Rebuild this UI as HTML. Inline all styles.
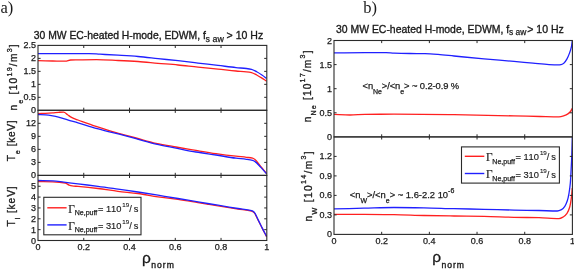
<!DOCTYPE html>
<html><head><meta charset="utf-8"><style>
html,body{margin:0;padding:0;background:#fff;}
svg{display:block;will-change:transform;filter:blur(0.3px);}
text{font-family:"Liberation Sans",sans-serif;fill:#1a1a1a;}
.tk{font-size:9.0px;stroke:#1a1a1a;stroke-width:0.25px;}
.ti{font-size:11px;stroke:#1a1a1a;stroke-width:0.35px;}
.sb{font-size:9px;stroke:#1a1a1a;stroke-width:0.25px;}
.pl{font-family:"Liberation Serif",serif;font-size:16.5px;}
.rho{font-size:15.5px;stroke:#1a1a1a;stroke-width:0.3px;}
.nm{font-size:8.6px;letter-spacing:1.0px;stroke-width:0.35px;}
.yl{font-size:10.2px;stroke:#1a1a1a;stroke-width:0.3px;}
.ys{font-size:7.2px;}
.an{font-size:9.4px;stroke:#1a1a1a;stroke-width:0.25px;}
.as{font-size:7px;}
.lg{font-size:9.3px;stroke:#1a1a1a;stroke-width:0.15px;}
.gam{font-family:"Liberation Serif",serif;font-size:13px;stroke:#1a1a1a;stroke-width:0.2px;}
.lsb{font-size:7.6px;stroke:#1a1a1a;stroke-width:0.25px;}
.lsp{font-size:6.2px;stroke:#1a1a1a;stroke-width:0.12px;}
</style></head>
<body><svg width="574" height="270" viewBox="0 0 574 270">
<rect width="574" height="270" fill="#fff"/>
<defs>
<clipPath id="c0"><rect x="38.0" y="45.4" width="228.8" height="64.9"/></clipPath>
<clipPath id="c1"><rect x="38.0" y="110.3" width="228.8" height="65.10000000000001"/></clipPath>
<clipPath id="c2"><rect x="38.0" y="175.4" width="228.8" height="65.1"/></clipPath>
<clipPath id="c3"><rect x="334.0" y="40.5" width="238.39999999999998" height="96.4"/></clipPath>
<clipPath id="c4"><rect x="334.0" y="136.9" width="238.39999999999998" height="97.5"/></clipPath>
</defs>
<g clip-path="url(#c0)"><path d="M38.00,60.70 C42.93,60.80 47.87,60.91 52.80,61.00 C57.00,61.07 61.20,61.20 65.40,61.20 C67.13,61.20 68.87,60.05 70.60,60.00 C73.07,59.93 75.53,59.93 78.00,59.90 C84.17,59.82 90.33,59.70 96.50,59.70 C103.67,59.70 110.83,60.19 118.00,60.50 C124.67,60.78 131.33,61.07 138.00,61.50 C144.67,61.93 151.33,62.72 158.00,63.30 C164.67,63.88 171.33,64.36 178.00,65.00 C184.67,65.64 191.33,66.52 198.00,67.20 C204.67,67.88 211.33,68.43 218.00,69.10 C224.00,69.70 230.00,70.47 236.00,71.00 C239.47,71.30 242.93,71.43 246.40,71.80 C248.10,71.98 249.80,72.20 251.50,72.60 C253.23,73.01 254.97,74.10 256.70,75.00 C258.43,75.90 260.17,77.01 261.90,78.10 C263.47,79.08 265.03,80.17 266.60,81.20" fill="none" stroke="#ff2020" stroke-width="1.3" stroke-linejoin="round" stroke-linecap="butt"/></g>
<g clip-path="url(#c0)"><path d="M38.00,53.60 C55.00,53.60 72.00,53.60 89.00,53.60 C92.67,53.60 96.33,54.00 100.00,54.20 C106.00,54.53 112.00,54.84 118.00,55.20 C124.67,55.60 131.33,55.96 138.00,56.50 C144.67,57.04 151.33,57.90 158.00,58.60 C164.67,59.30 171.33,59.95 178.00,60.70 C184.67,61.45 191.33,62.32 198.00,63.10 C204.67,63.88 211.33,64.61 218.00,65.40 C224.00,66.11 230.00,67.00 236.00,67.60 C239.47,67.95 242.93,68.10 246.40,68.50 C248.10,68.70 249.80,68.90 251.50,69.30 C253.23,69.71 254.97,70.86 256.70,71.80 C258.43,72.74 260.17,73.85 261.90,75.00 C263.47,76.04 265.03,77.27 266.60,78.40" fill="none" stroke="#2020ff" stroke-width="1.3" stroke-linejoin="round" stroke-linecap="butt"/></g>
<g clip-path="url(#c1)"><path d="M38.00,113.60 C40.47,113.50 42.93,113.42 45.40,113.30 C47.87,113.17 50.33,112.99 52.80,112.80 C54.77,112.65 56.73,112.41 58.70,112.30 C60.33,112.21 61.97,112.10 63.60,112.10 C64.93,112.10 66.27,113.78 67.60,114.70 C68.60,115.39 69.60,116.31 70.60,116.90 C71.60,117.49 72.60,117.97 73.60,118.40 C75.07,119.02 76.53,119.47 78.00,120.00 C84.00,122.16 90.00,124.39 96.00,126.40 C102.67,128.63 109.33,130.78 116.00,132.70 C122.67,134.62 129.33,136.23 136.00,138.00 C142.67,139.77 149.33,141.85 156.00,143.30 C162.67,144.75 169.33,145.82 176.00,147.00 C182.67,148.18 189.33,149.30 196.00,150.40 C202.67,151.50 209.33,152.64 216.00,153.60 C222.67,154.56 229.33,155.43 236.00,156.20 C239.47,156.60 242.93,156.89 246.40,157.30 C248.47,157.54 250.53,157.61 252.60,158.10 C253.30,158.26 254.00,158.79 254.70,159.30 C256.77,160.80 258.83,164.11 260.90,166.60 C262.80,168.88 264.70,171.27 266.60,173.60" fill="none" stroke="#ff2020" stroke-width="1.3" stroke-linejoin="round" stroke-linecap="butt"/></g>
<g clip-path="url(#c1)"><path d="M38.00,114.50 C40.47,114.60 42.93,114.65 45.40,114.80 C47.87,114.95 50.33,115.37 52.80,115.80 C55.27,116.23 57.73,116.93 60.20,117.60 C62.67,118.27 65.13,119.17 67.60,119.90 C71.07,120.92 74.53,121.79 78.00,122.80 C84.00,124.56 90.00,126.73 96.00,128.40 C102.67,130.25 109.33,131.70 116.00,133.40 C122.67,135.10 129.33,136.82 136.00,138.60 C142.67,140.38 149.33,142.56 156.00,144.10 C162.67,145.64 169.33,146.78 176.00,148.10 C182.67,149.42 189.33,150.87 196.00,152.00 C202.67,153.13 209.33,153.97 216.00,155.00 C222.67,156.03 229.33,157.37 236.00,158.20 C239.47,158.63 242.93,158.83 246.40,159.30 C248.47,159.58 250.53,159.82 252.60,160.40 C253.30,160.60 254.00,160.98 254.70,161.40 C256.77,162.65 258.83,165.25 260.90,167.40 C262.80,169.38 264.70,171.67 266.60,173.80" fill="none" stroke="#2020ff" stroke-width="1.3" stroke-linejoin="round" stroke-linecap="butt"/></g>
<g clip-path="url(#c2)"><path d="M38.00,181.60 C42.93,181.67 47.87,181.68 52.80,181.80 C57.00,181.90 61.20,182.21 65.40,183.00 C66.63,183.23 67.87,184.66 69.10,185.10 C70.10,185.46 71.10,185.76 72.10,185.90 C74.07,186.17 76.03,186.22 78.00,186.40 C84.67,187.01 91.33,187.70 98.00,188.50 C104.67,189.30 111.33,190.48 118.00,191.30 C124.67,192.12 131.33,192.62 138.00,193.50 C144.67,194.38 151.33,195.83 158.00,196.80 C164.67,197.77 171.33,198.44 178.00,199.40 C184.67,200.36 191.33,201.52 198.00,202.60 C204.67,203.68 211.33,204.82 218.00,205.90 C224.67,206.98 231.33,208.05 238.00,209.10 C242.53,209.81 247.07,209.95 251.60,211.20 C252.40,211.42 253.20,211.86 254.00,212.50 C255.27,213.52 256.53,217.09 257.80,219.50 C259.33,222.42 260.87,225.61 262.40,228.60 C263.80,231.33 265.20,234.00 266.60,236.70" fill="none" stroke="#ff2020" stroke-width="1.3" stroke-linejoin="round" stroke-linecap="butt"/></g>
<g clip-path="url(#c2)"><path d="M38.00,180.50 C42.93,180.60 47.87,180.62 52.80,180.80 C56.50,180.93 60.20,181.65 63.90,182.10 C68.60,182.67 73.30,183.32 78.00,183.90 C84.67,184.73 91.33,185.44 98.00,186.30 C104.67,187.16 111.33,188.15 118.00,189.10 C124.67,190.05 131.33,190.99 138.00,192.00 C144.67,193.01 151.33,194.12 158.00,195.20 C164.67,196.28 171.33,197.38 178.00,198.50 C184.67,199.62 191.33,200.78 198.00,201.90 C204.67,203.02 211.33,204.10 218.00,205.20 C224.67,206.30 231.33,207.41 238.00,208.50 C242.53,209.24 247.07,209.41 251.60,210.70 C252.40,210.93 253.20,211.35 254.00,212.00 C255.27,213.02 256.53,216.64 257.80,219.10 C259.33,222.07 260.87,225.37 262.40,228.40 C263.80,231.16 265.20,233.80 266.60,236.50" fill="none" stroke="#2020ff" stroke-width="1.3" stroke-linejoin="round" stroke-linecap="butt"/></g>
<g clip-path="url(#c3)"><path d="M334.00,114.40 C339.33,114.60 344.67,115.00 350.00,115.00 C355.00,115.00 360.00,114.46 365.00,114.40 C374.67,114.28 384.33,114.20 394.00,114.20 C414.00,114.20 434.00,114.46 454.00,114.70 C474.00,114.94 494.00,115.47 514.00,115.90 C522.67,116.09 531.33,116.31 540.00,116.50 C546.33,116.64 552.67,116.90 559.00,116.90 C560.73,116.90 562.47,116.26 564.20,115.70 C565.57,115.26 566.93,114.54 568.30,113.60 C569.03,113.10 569.77,112.43 570.50,111.50 C571.10,110.74 571.70,109.30 572.30,108.20" fill="none" stroke="#ff2020" stroke-width="1.3" stroke-linejoin="round" stroke-linecap="butt"/></g>
<g clip-path="url(#c3)"><path d="M334.00,52.90 C344.33,52.80 354.67,52.60 365.00,52.60 C372.00,52.60 379.00,52.60 386.00,52.60 C388.67,52.60 391.33,53.00 394.00,53.10 C399.33,53.30 404.67,53.41 410.00,53.50 C415.00,53.59 420.00,53.59 425.00,53.70 C429.33,53.79 433.67,54.10 438.00,54.40 C443.33,54.77 448.67,55.47 454.00,56.00 C464.00,56.98 474.00,58.00 484.00,58.90 C494.00,59.80 504.00,60.51 514.00,61.40 C520.33,61.96 526.67,62.62 533.00,63.20 C538.33,63.68 543.67,64.42 549.00,64.60 C552.00,64.70 555.00,64.80 558.00,64.80 C559.00,64.80 560.00,64.72 561.00,64.60 C561.93,64.49 562.87,63.88 563.80,63.20 C564.87,62.43 565.93,60.65 567.00,58.80 C567.83,57.36 568.67,55.37 569.50,53.10 C570.13,51.37 570.77,49.64 571.40,46.80 C571.70,45.45 572.00,43.67 572.30,41.20 C572.40,40.38 572.50,39.07 572.60,38.00" fill="none" stroke="#2020ff" stroke-width="1.3" stroke-linejoin="round" stroke-linecap="butt"/></g>
<g clip-path="url(#c4)"><path d="M334.00,214.40 C344.00,214.40 354.00,214.40 364.00,214.40 C374.00,214.40 384.00,214.55 394.00,214.70 C404.00,214.85 414.00,215.29 424.00,215.50 C434.00,215.71 444.00,215.85 454.00,216.00 C464.00,216.15 474.00,216.22 484.00,216.40 C494.00,216.58 504.00,217.09 514.00,217.30 C522.33,217.47 530.67,217.50 539.00,217.70 C545.67,217.86 552.33,218.60 559.00,218.60 C560.40,218.60 561.80,217.77 563.20,217.00 C564.47,216.30 565.73,215.08 567.00,213.30 C567.93,211.99 568.87,209.95 569.80,206.70 C570.37,204.72 570.93,201.19 571.50,196.70 C571.77,194.59 572.03,190.90 572.30,188.00" fill="none" stroke="#ff2020" stroke-width="1.3" stroke-linejoin="round" stroke-linecap="butt"/></g>
<g clip-path="url(#c4)"><path d="M334.00,208.90 C344.00,208.67 354.00,208.43 364.00,208.20 C374.00,207.97 384.00,207.50 394.00,207.50 C404.00,207.50 414.00,207.65 424.00,207.80 C434.00,207.95 444.00,208.46 454.00,208.70 C464.00,208.94 474.00,209.07 484.00,209.30 C494.00,209.53 504.00,209.90 514.00,210.10 C522.33,210.27 530.67,210.33 539.00,210.50 C545.10,210.62 551.20,211.00 557.30,211.00 C558.70,211.00 560.10,210.38 561.50,209.70 C562.60,209.16 563.70,207.87 564.80,206.30 C565.63,205.11 566.47,203.30 567.30,200.80 C567.87,199.10 568.43,196.52 569.00,193.30 C569.43,190.84 569.87,187.99 570.30,183.30 C570.57,180.41 570.83,175.01 571.10,170.00 C571.33,165.62 571.57,160.99 571.80,155.00 C572.00,149.86 572.20,142.13 572.40,136.00 C572.47,133.96 572.53,132.00 572.60,130.00" fill="none" stroke="#2020ff" stroke-width="1.3" stroke-linejoin="round" stroke-linecap="butt"/></g>
<rect x="38.0" y="45.4" width="228.8" height="64.9" fill="none" stroke="#2a2a2a" stroke-width="1.1"/>
<line x1="38.0" y1="97.32" x2="40.6" y2="97.32" stroke="#2a2a2a" stroke-width="1"/>
<line x1="266.8" y1="97.32" x2="264.2" y2="97.32" stroke="#2a2a2a" stroke-width="1"/>
<line x1="38.0" y1="84.34" x2="40.6" y2="84.34" stroke="#2a2a2a" stroke-width="1"/>
<line x1="266.8" y1="84.34" x2="264.2" y2="84.34" stroke="#2a2a2a" stroke-width="1"/>
<line x1="38.0" y1="71.36" x2="40.6" y2="71.36" stroke="#2a2a2a" stroke-width="1"/>
<line x1="266.8" y1="71.36" x2="264.2" y2="71.36" stroke="#2a2a2a" stroke-width="1"/>
<line x1="38.0" y1="58.38" x2="40.6" y2="58.38" stroke="#2a2a2a" stroke-width="1"/>
<line x1="266.8" y1="58.38" x2="264.2" y2="58.38" stroke="#2a2a2a" stroke-width="1"/>
<line x1="83.76" y1="45.4" x2="83.76" y2="48.0" stroke="#2a2a2a" stroke-width="1"/>
<line x1="83.76" y1="110.3" x2="83.76" y2="107.7" stroke="#2a2a2a" stroke-width="1"/>
<line x1="129.52" y1="45.4" x2="129.52" y2="48.0" stroke="#2a2a2a" stroke-width="1"/>
<line x1="129.52" y1="110.3" x2="129.52" y2="107.7" stroke="#2a2a2a" stroke-width="1"/>
<line x1="175.28" y1="45.4" x2="175.28" y2="48.0" stroke="#2a2a2a" stroke-width="1"/>
<line x1="175.28" y1="110.3" x2="175.28" y2="107.7" stroke="#2a2a2a" stroke-width="1"/>
<line x1="221.04" y1="45.4" x2="221.04" y2="48.0" stroke="#2a2a2a" stroke-width="1"/>
<line x1="221.04" y1="110.3" x2="221.04" y2="107.7" stroke="#2a2a2a" stroke-width="1"/>
<rect x="38.0" y="110.3" width="228.8" height="65.10000000000001" fill="none" stroke="#2a2a2a" stroke-width="1.1"/>
<line x1="38.0" y1="162.38" x2="40.6" y2="162.38" stroke="#2a2a2a" stroke-width="1"/>
<line x1="266.8" y1="162.38" x2="264.2" y2="162.38" stroke="#2a2a2a" stroke-width="1"/>
<line x1="38.0" y1="149.36" x2="40.6" y2="149.36" stroke="#2a2a2a" stroke-width="1"/>
<line x1="266.8" y1="149.36" x2="264.2" y2="149.36" stroke="#2a2a2a" stroke-width="1"/>
<line x1="38.0" y1="136.34" x2="40.6" y2="136.34" stroke="#2a2a2a" stroke-width="1"/>
<line x1="266.8" y1="136.34" x2="264.2" y2="136.34" stroke="#2a2a2a" stroke-width="1"/>
<line x1="38.0" y1="123.32" x2="40.6" y2="123.32" stroke="#2a2a2a" stroke-width="1"/>
<line x1="266.8" y1="123.32" x2="264.2" y2="123.32" stroke="#2a2a2a" stroke-width="1"/>
<line x1="83.76" y1="110.3" x2="83.76" y2="112.89999999999999" stroke="#2a2a2a" stroke-width="1"/>
<line x1="83.76" y1="175.4" x2="83.76" y2="172.8" stroke="#2a2a2a" stroke-width="1"/>
<line x1="129.52" y1="110.3" x2="129.52" y2="112.89999999999999" stroke="#2a2a2a" stroke-width="1"/>
<line x1="129.52" y1="175.4" x2="129.52" y2="172.8" stroke="#2a2a2a" stroke-width="1"/>
<line x1="175.28" y1="110.3" x2="175.28" y2="112.89999999999999" stroke="#2a2a2a" stroke-width="1"/>
<line x1="175.28" y1="175.4" x2="175.28" y2="172.8" stroke="#2a2a2a" stroke-width="1"/>
<line x1="221.04" y1="110.3" x2="221.04" y2="112.89999999999999" stroke="#2a2a2a" stroke-width="1"/>
<line x1="221.04" y1="175.4" x2="221.04" y2="172.8" stroke="#2a2a2a" stroke-width="1"/>
<rect x="38.0" y="175.4" width="228.8" height="65.1" fill="none" stroke="#2a2a2a" stroke-width="1.1"/>
<line x1="38.0" y1="229.65" x2="40.6" y2="229.65" stroke="#2a2a2a" stroke-width="1"/>
<line x1="266.8" y1="229.65" x2="264.2" y2="229.65" stroke="#2a2a2a" stroke-width="1"/>
<line x1="38.0" y1="218.80" x2="40.6" y2="218.80" stroke="#2a2a2a" stroke-width="1"/>
<line x1="266.8" y1="218.80" x2="264.2" y2="218.80" stroke="#2a2a2a" stroke-width="1"/>
<line x1="38.0" y1="207.95" x2="40.6" y2="207.95" stroke="#2a2a2a" stroke-width="1"/>
<line x1="266.8" y1="207.95" x2="264.2" y2="207.95" stroke="#2a2a2a" stroke-width="1"/>
<line x1="38.0" y1="197.10" x2="40.6" y2="197.10" stroke="#2a2a2a" stroke-width="1"/>
<line x1="266.8" y1="197.10" x2="264.2" y2="197.10" stroke="#2a2a2a" stroke-width="1"/>
<line x1="38.0" y1="186.25" x2="40.6" y2="186.25" stroke="#2a2a2a" stroke-width="1"/>
<line x1="266.8" y1="186.25" x2="264.2" y2="186.25" stroke="#2a2a2a" stroke-width="1"/>
<line x1="83.76" y1="175.4" x2="83.76" y2="178.0" stroke="#2a2a2a" stroke-width="1"/>
<line x1="83.76" y1="240.5" x2="83.76" y2="237.9" stroke="#2a2a2a" stroke-width="1"/>
<line x1="129.52" y1="175.4" x2="129.52" y2="178.0" stroke="#2a2a2a" stroke-width="1"/>
<line x1="129.52" y1="240.5" x2="129.52" y2="237.9" stroke="#2a2a2a" stroke-width="1"/>
<line x1="175.28" y1="175.4" x2="175.28" y2="178.0" stroke="#2a2a2a" stroke-width="1"/>
<line x1="175.28" y1="240.5" x2="175.28" y2="237.9" stroke="#2a2a2a" stroke-width="1"/>
<line x1="221.04" y1="175.4" x2="221.04" y2="178.0" stroke="#2a2a2a" stroke-width="1"/>
<line x1="221.04" y1="240.5" x2="221.04" y2="237.9" stroke="#2a2a2a" stroke-width="1"/>
<rect x="334.0" y="40.5" width="238.39999999999998" height="96.4" fill="none" stroke="#2a2a2a" stroke-width="1.1"/>
<line x1="334.0" y1="112.80" x2="336.6" y2="112.80" stroke="#2a2a2a" stroke-width="1"/>
<line x1="572.4" y1="112.80" x2="569.8" y2="112.80" stroke="#2a2a2a" stroke-width="1"/>
<line x1="334.0" y1="88.70" x2="336.6" y2="88.70" stroke="#2a2a2a" stroke-width="1"/>
<line x1="572.4" y1="88.70" x2="569.8" y2="88.70" stroke="#2a2a2a" stroke-width="1"/>
<line x1="334.0" y1="64.60" x2="336.6" y2="64.60" stroke="#2a2a2a" stroke-width="1"/>
<line x1="572.4" y1="64.60" x2="569.8" y2="64.60" stroke="#2a2a2a" stroke-width="1"/>
<line x1="381.68" y1="40.5" x2="381.68" y2="43.1" stroke="#2a2a2a" stroke-width="1"/>
<line x1="381.68" y1="136.9" x2="381.68" y2="134.3" stroke="#2a2a2a" stroke-width="1"/>
<line x1="429.36" y1="40.5" x2="429.36" y2="43.1" stroke="#2a2a2a" stroke-width="1"/>
<line x1="429.36" y1="136.9" x2="429.36" y2="134.3" stroke="#2a2a2a" stroke-width="1"/>
<line x1="477.04" y1="40.5" x2="477.04" y2="43.1" stroke="#2a2a2a" stroke-width="1"/>
<line x1="477.04" y1="136.9" x2="477.04" y2="134.3" stroke="#2a2a2a" stroke-width="1"/>
<line x1="524.72" y1="40.5" x2="524.72" y2="43.1" stroke="#2a2a2a" stroke-width="1"/>
<line x1="524.72" y1="136.9" x2="524.72" y2="134.3" stroke="#2a2a2a" stroke-width="1"/>
<rect x="334.0" y="136.9" width="238.39999999999998" height="97.5" fill="none" stroke="#2a2a2a" stroke-width="1.1"/>
<line x1="334.0" y1="214.90" x2="336.6" y2="214.90" stroke="#2a2a2a" stroke-width="1"/>
<line x1="572.4" y1="214.90" x2="569.8" y2="214.90" stroke="#2a2a2a" stroke-width="1"/>
<line x1="334.0" y1="195.40" x2="336.6" y2="195.40" stroke="#2a2a2a" stroke-width="1"/>
<line x1="572.4" y1="195.40" x2="569.8" y2="195.40" stroke="#2a2a2a" stroke-width="1"/>
<line x1="334.0" y1="175.90" x2="336.6" y2="175.90" stroke="#2a2a2a" stroke-width="1"/>
<line x1="572.4" y1="175.90" x2="569.8" y2="175.90" stroke="#2a2a2a" stroke-width="1"/>
<line x1="334.0" y1="156.40" x2="336.6" y2="156.40" stroke="#2a2a2a" stroke-width="1"/>
<line x1="572.4" y1="156.40" x2="569.8" y2="156.40" stroke="#2a2a2a" stroke-width="1"/>
<line x1="381.68" y1="136.9" x2="381.68" y2="139.5" stroke="#2a2a2a" stroke-width="1"/>
<line x1="381.68" y1="234.4" x2="381.68" y2="231.8" stroke="#2a2a2a" stroke-width="1"/>
<line x1="429.36" y1="136.9" x2="429.36" y2="139.5" stroke="#2a2a2a" stroke-width="1"/>
<line x1="429.36" y1="234.4" x2="429.36" y2="231.8" stroke="#2a2a2a" stroke-width="1"/>
<line x1="477.04" y1="136.9" x2="477.04" y2="139.5" stroke="#2a2a2a" stroke-width="1"/>
<line x1="477.04" y1="234.4" x2="477.04" y2="231.8" stroke="#2a2a2a" stroke-width="1"/>
<line x1="524.72" y1="136.9" x2="524.72" y2="139.5" stroke="#2a2a2a" stroke-width="1"/>
<line x1="524.72" y1="234.4" x2="524.72" y2="231.8" stroke="#2a2a2a" stroke-width="1"/>
<text x="36" y="113.30" text-anchor="end" class="tk">0</text>
<text x="36" y="100.32" text-anchor="end" class="tk">0.5</text>
<text x="36" y="87.34" text-anchor="end" class="tk">1</text>
<text x="36" y="74.36" text-anchor="end" class="tk">1.5</text>
<text x="36" y="61.38" text-anchor="end" class="tk">2</text>
<text x="36" y="48.40" text-anchor="end" class="tk">2.5</text>
<text x="36" y="178.40" text-anchor="end" class="tk">0</text>
<text x="36" y="165.38" text-anchor="end" class="tk">3</text>
<text x="36" y="152.36" text-anchor="end" class="tk">6</text>
<text x="36" y="139.34" text-anchor="end" class="tk">9</text>
<text x="36" y="126.32" text-anchor="end" class="tk">12</text>
<text x="36" y="243.50" text-anchor="end" class="tk">0</text>
<text x="36" y="232.65" text-anchor="end" class="tk">1</text>
<text x="36" y="221.80" text-anchor="end" class="tk">2</text>
<text x="36" y="210.95" text-anchor="end" class="tk">3</text>
<text x="36" y="200.10" text-anchor="end" class="tk">4</text>
<text x="36" y="189.25" text-anchor="end" class="tk">5</text>
<text x="38.00" y="250.0" text-anchor="middle" class="tk">0</text>
<text x="83.76" y="250.0" text-anchor="middle" class="tk">0.2</text>
<text x="129.52" y="250.0" text-anchor="middle" class="tk">0.4</text>
<text x="175.28" y="250.0" text-anchor="middle" class="tk">0.6</text>
<text x="221.04" y="250.0" text-anchor="middle" class="tk">0.8</text>
<text x="266.80" y="250.0" text-anchor="middle" class="tk">1</text>
<text x="332" y="139.90" text-anchor="end" class="tk">0</text>
<text x="332" y="115.80" text-anchor="end" class="tk">0.5</text>
<text x="332" y="91.70" text-anchor="end" class="tk">1</text>
<text x="332" y="67.60" text-anchor="end" class="tk">1.5</text>
<text x="332" y="43.50" text-anchor="end" class="tk">2</text>
<text x="332" y="237.40" text-anchor="end" class="tk">0</text>
<text x="332" y="217.90" text-anchor="end" class="tk">0.3</text>
<text x="332" y="198.40" text-anchor="end" class="tk">0.6</text>
<text x="332" y="178.90" text-anchor="end" class="tk">0.9</text>
<text x="332" y="159.40" text-anchor="end" class="tk">1.2</text>
<text x="334.00" y="244.3" text-anchor="middle" class="tk">0</text>
<text x="381.68" y="244.3" text-anchor="middle" class="tk">0.2</text>
<text x="429.36" y="244.3" text-anchor="middle" class="tk">0.4</text>
<text x="477.04" y="244.3" text-anchor="middle" class="tk">0.6</text>
<text x="524.72" y="244.3" text-anchor="middle" class="tk">0.8</text>
<text x="572.40" y="244.3" text-anchor="middle" class="tk">1</text>
<text x="33.8" y="38.5" class="ti" textLength="172.0" lengthAdjust="spacingAndGlyphs">30 MW EC-heated H-mode, EDWM, f</text>
<text x="205.6" y="42.4" class="sb" textLength="18.2" lengthAdjust="spacingAndGlyphs">s aw</text>
<text x="226.6" y="38.5" class="ti" textLength="36.6" lengthAdjust="spacingAndGlyphs">&gt; 10 Hz</text>
<text x="336.0" y="33.0" class="ti" textLength="173.2" lengthAdjust="spacingAndGlyphs">30 MW EC-heated H-mode, EDWM, f</text>
<text x="509.0" y="35.4" class="sb" textLength="17.4" lengthAdjust="spacingAndGlyphs">s aw</text>
<text x="527.2" y="33.0" class="ti" textLength="36.6" lengthAdjust="spacingAndGlyphs">&gt; 10 Hz</text>
<text x="0.4" y="12.8" class="pl">a)</text>
<text x="363.3" y="13.1" class="pl">b)</text>
<text x="142.1" y="262.6" class="rho">ρ<tspan class="nm" dx="0.3" dy="5.4">norm</tspan></text>
<text x="432.3" y="262.4" class="rho">ρ<tspan class="nm" dx="0.3" dy="5.4">norm</tspan></text>
<text transform="translate(17.3,77.45) rotate(-90)" text-anchor="middle" class="yl" textLength="66.30" lengthAdjust="spacing">n<tspan class="ys" dy="5.4">e</tspan><tspan dy="-5.4"> [10</tspan><tspan class="ys" dy="-5.8">19</tspan><tspan dy="5.8">/m</tspan><tspan class="ys" dy="-5.8">3</tspan><tspan dy="5.8">]</tspan></text>
<text transform="translate(15.0,140.80) rotate(-90)" text-anchor="middle" class="yl" textLength="40.80" lengthAdjust="spacing">T<tspan class="ys" dy="5.4">e</tspan><tspan dy="-5.4"> [keV]</tspan></text>
<text transform="translate(15.0,206.40) rotate(-90)" text-anchor="middle" class="yl" textLength="40.20" lengthAdjust="spacing">T<tspan class="ys" dy="5.4">i</tspan><tspan dy="-5.4"> [keV]</tspan></text>
<text transform="translate(311.0,86.40) rotate(-90)" text-anchor="middle" class="yl" textLength="71.80" lengthAdjust="spacing">n<tspan class="ys" dy="5.4">Ne</tspan><tspan dy="-5.4"> [10</tspan><tspan class="ys" dy="-5.8">17</tspan><tspan dy="5.8">/m</tspan><tspan class="ys" dy="-5.8">3</tspan><tspan dy="5.8">]</tspan></text>
<text transform="translate(311.5,186.40) rotate(-90)" text-anchor="middle" class="yl" textLength="70.00" lengthAdjust="spacing">n<tspan class="ys" dy="5.4">W</tspan><tspan dy="-5.4"> [10</tspan><tspan class="ys" dy="-5.8">14</tspan><tspan dy="5.8">/m</tspan><tspan class="ys" dy="-5.8">3</tspan><tspan dy="5.8">]</tspan></text>
<text x="362.6" y="89" class="an" textLength="96.5" lengthAdjust="spacing">&lt;n<tspan class="as" dy="4.6">Ne</tspan><tspan dy="-4.6">&gt;/&lt;n</tspan><tspan class="as" dy="4.6">e</tspan><tspan dy="-4.6">&gt; ~ 0.2-0.9 %</tspan></text>
<text x="349.7" y="198.2" class="an" textLength="104.6" lengthAdjust="spacing">&lt;n<tspan class="as" dy="4.6">W</tspan><tspan dy="-4.6">&gt;/&lt;n</tspan><tspan class="as" dy="4.6">e</tspan><tspan dy="-4.6">&gt; ~ 1.6-2.2 10</tspan><tspan class="as" dy="-4.9">-6</tspan></text>
<rect x="43.8" y="197.3" width="97.2" height="37.5" fill="#fff" stroke="#2a2a2a" stroke-width="1.1"/>
<line x1="47.3" y1="207.8" x2="66.6" y2="207.8" stroke="#ff2020" stroke-width="1.4"/>
<line x1="47.3" y1="224.9" x2="66.6" y2="224.9" stroke="#2020ff" stroke-width="1.4"/>
<text x="68.30" y="212.70" class="gam" textLength="6.6" lengthAdjust="spacingAndGlyphs">Γ</text>
<text x="74.70" y="215.10" class="lsb" textLength="22.6" lengthAdjust="spacingAndGlyphs">Ne,puff</text>
<text x="98.00" y="211.80" class="lg">=</text>
<text x="106.00" y="211.80" class="lg">1</text>
<text x="111.00" y="211.80" class="lg">10</text>
<text x="122.30" y="206.80" class="lsp">19</text>
<text x="129.20" y="211.80" class="lg">/</text>
<text x="133.70" y="211.80" class="lg">s</text>
<text x="68.30" y="229.80" class="gam" textLength="6.6" lengthAdjust="spacingAndGlyphs">Γ</text>
<text x="74.70" y="232.20" class="lsb" textLength="22.6" lengthAdjust="spacingAndGlyphs">Ne,puff</text>
<text x="98.00" y="228.90" class="lg">=</text>
<text x="106.00" y="228.90" class="lg">3</text>
<text x="111.00" y="228.90" class="lg">10</text>
<text x="122.30" y="223.90" class="lsp">19</text>
<text x="129.20" y="228.90" class="lg">/</text>
<text x="133.70" y="228.90" class="lg">s</text>
<rect x="461.5" y="146.9" width="97.9" height="36.2" fill="#fff" stroke="#2a2a2a" stroke-width="1.1"/>
<line x1="464.8" y1="156.3" x2="484.3" y2="156.3" stroke="#ff2020" stroke-width="1.4"/>
<line x1="464.8" y1="173.5" x2="484.3" y2="173.5" stroke="#2020ff" stroke-width="1.4"/>
<text x="485.90" y="161.20" class="gam" textLength="6.6" lengthAdjust="spacingAndGlyphs">Γ</text>
<text x="492.30" y="163.60" class="lsb" textLength="22.6" lengthAdjust="spacingAndGlyphs">Ne,puff</text>
<text x="515.60" y="160.30" class="lg">=</text>
<text x="523.60" y="160.30" class="lg">1</text>
<text x="528.60" y="160.30" class="lg">10</text>
<text x="539.90" y="155.30" class="lsp">19</text>
<text x="546.80" y="160.30" class="lg">/</text>
<text x="551.30" y="160.30" class="lg">s</text>
<text x="485.90" y="178.40" class="gam" textLength="6.6" lengthAdjust="spacingAndGlyphs">Γ</text>
<text x="492.30" y="180.80" class="lsb" textLength="22.6" lengthAdjust="spacingAndGlyphs">Ne,puff</text>
<text x="515.60" y="177.50" class="lg">=</text>
<text x="523.60" y="177.50" class="lg">3</text>
<text x="528.60" y="177.50" class="lg">10</text>
<text x="539.90" y="172.50" class="lsp">19</text>
<text x="546.80" y="177.50" class="lg">/</text>
<text x="551.30" y="177.50" class="lg">s</text>
</svg></body></html>
